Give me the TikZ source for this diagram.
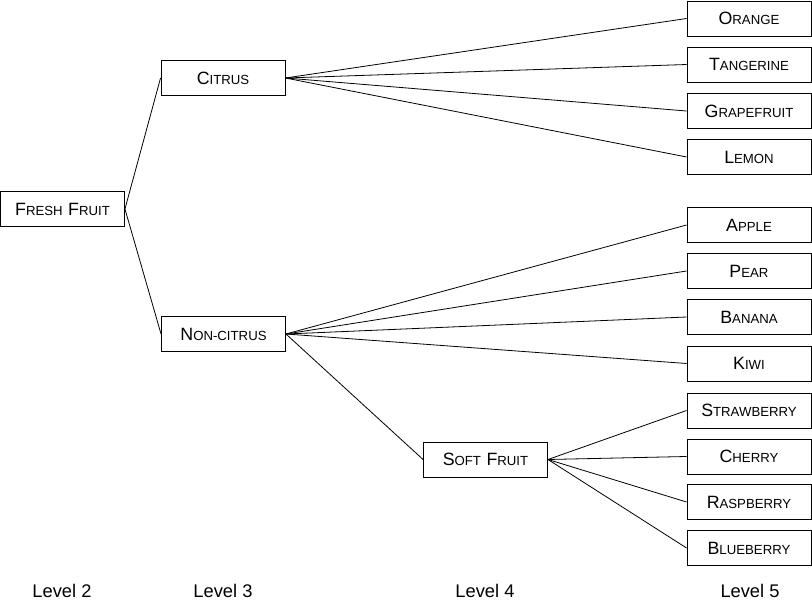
\documentclass[tikz,border=0pt]{standalone}
\usepackage{fontspec}
\setmainfont{Liberation Sans}
\newcommand\SCw[2]{{\fontsize{17.8}{18}\selectfont #1}{\fontsize{13.2}{14}\selectfont #2}}
\newcommand\wgap{\hspace{5.5pt}}
\begin{document}
\begin{tikzpicture}[x=1pt,y=-1pt,
  box/.style={draw,line width=0.9pt,minimum width=124pt,minimum height=35pt,inner sep=0pt,anchor=center},
  conn/.style={line width=0.8pt},
  lvl/.style={font=\fontsize{18.3}{20}\selectfont}]
\useasboundingbox (0,0) rectangle (812,604);
\node[box] (fresh) at (62.5,209) {\SCw{F}{RESH}\wgap\SCw{F}{RUIT}};
\node[box] (citrus) at (223,78) {\SCw{C}{ITRUS}};
\node[box] (non) at (223.5,334) {\SCw{N}{ON-CITRUS}};
\node[box] (soft) at (485.5,459.5) {\SCw{S}{OFT}\wgap\SCw{F}{RUIT}};
\node[box] (orange) at (749,18.5) {\SCw{O}{RANGE}};
\node[box] (tang) at (749,64.5) {\SCw{T}{ANGERINE}};
\node[box] (grape) at (749,111) {\SCw{G}{RAPEFRUIT}};
\node[box] (lemon) at (749,157) {\SCw{L}{EMON}};
\node[box] (apple) at (749,225) {\SCw{A}{PPLE}};
\node[box] (pear) at (749,271) {\SCw{P}{EAR}};
\node[box] (banana) at (749,317) {\SCw{B}{ANANA}};
\node[box] (kiwi) at (749,363.5) {\SCw{K}{IWI}};
\node[box] (straw) at (749,410.5) {\SCw{S}{TRAWBERRY}};
\node[box] (cherry) at (749,456.5) {\SCw{C}{HERRY}};
\node[box] (rasp) at (749,502) {\SCw{R}{ASPBERRY}};
\node[box] (blue) at (749,548) {\SCw{B}{LUEBERRY}};
\foreach \c in {citrus,non} \draw[conn] (fresh.east) -- (\c.west);
\foreach \c in {orange,tang,grape,lemon} \draw[conn] (citrus.east) -- (\c.west);
\foreach \c in {apple,pear,banana,kiwi,soft} \draw[conn] (non.east) -- (\c.west);
\foreach \c in {straw,cherry,rasp,blue} \draw[conn] (soft.east) -- (\c.west);
\node[lvl] (l2) at (62,591) {Level 2};
\node[lvl] (l3) at (223,591) {Level 3};
\node[lvl] (l4) at (485,591) {Level 4};
\node[lvl] (l5) at (750,591) {Level 5};
\end{tikzpicture}
\end{document}
